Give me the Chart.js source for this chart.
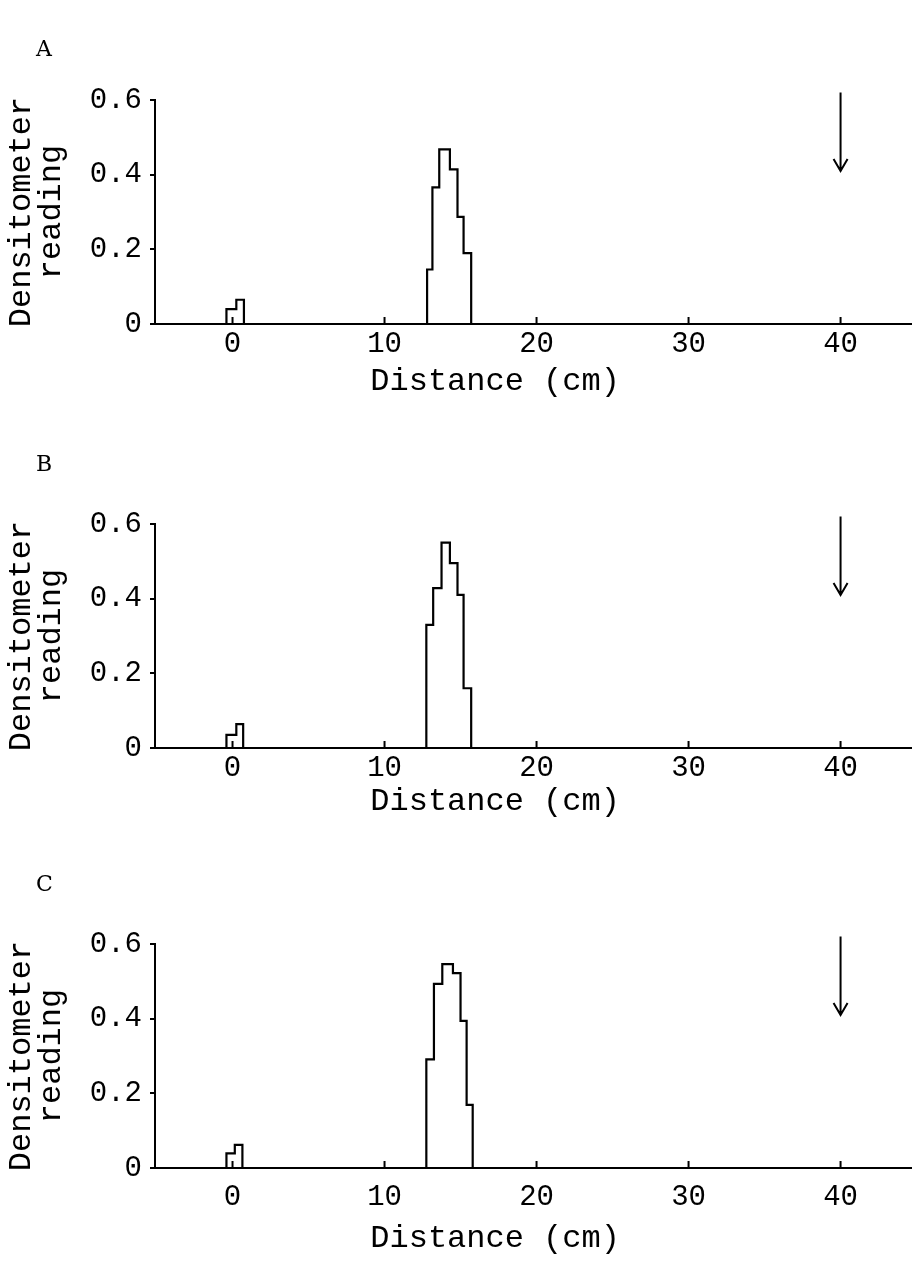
<!DOCTYPE html>
<html>
<head>
<meta charset="utf-8">
<script src="https://cdn.jsdelivr.net/npm/chart.js@4.4.1/dist/chart.umd.min.js"></script>
<style>
  body { margin: 0; background: #fff; width: 912px; height: 1262px; overflow: hidden; position: relative; }
  .panel { position: absolute; left: 0; width: 912px; height: 420px; }
</style>
</head>
<body>
<div class="panel" style="top:0"><canvas id="chartA"></canvas></div>
<div class="panel" style="top:424px"><canvas id="chartB"></canvas></div>
<div class="panel" style="top:844px"><canvas id="chartC"></canvas></div>
<script>
// shared axes
const xTicks = [0, 10, 20, 30, 40];
const yTicks = [0, 0.2, 0.4, 0.6];
const arrowAt = 40;
const arrowTop = 0.62;
const arrowTip = 0.41;

// Panel A
const smallEdgesA = [-0.4, 0.25, 0.75];
const smallValuesA = [0.04, 0.065];
const peakEdgesA = [12.8, 13.15, 13.6, 14.3, 14.8, 15.2, 15.7];
const peakValuesA = [0.146, 0.366, 0.468, 0.414, 0.287, 0.19];

// Panel B
const smallEdgesB = [-0.4, 0.25, 0.7];
const smallValuesB = [0.035, 0.064];
const peakEdgesB = [12.75, 13.2, 13.75, 14.3, 14.8, 15.2, 15.7];
const peakValuesB = [0.33, 0.428, 0.55, 0.495, 0.41, 0.16];

// Panel C
const smallEdgesC = [-0.4, 0.15, 0.65];
const smallValuesC = [0.039, 0.062];
const peakEdgesC = [12.75, 13.25, 13.8, 14.5, 15.0, 15.4, 15.8];
const peakValuesC = [0.291, 0.493, 0.546, 0.522, 0.394, 0.169];

const mono = "'Liberation Mono', 'DejaVu Sans Mono', monospace";

// outline of a histogram: up at the first edge, across each bin, down at the last edge
function outline(edges, values) {
    const pts = [{x: edges[0], y: 0}];
    values.forEach((v, i) => pts.push({x: edges[i], y: v}));
    pts.push({x: edges[edges.length - 1], y: 0});
    return pts;
}

const marks = {
    id: 'marks',
    afterDatasetsDraw(chart, args, opts) {
        const {ctx, scales: {x, y}} = chart;
        ctx.save();
        ctx.strokeStyle = '#000';
        ctx.lineWidth = 2;
        // tick marks point up into the plot
        x.ticks.forEach(t => {
            const px = x.getPixelForValue(t.value);
            ctx.beginPath();
            ctx.moveTo(px, y.bottom);
            ctx.lineTo(px, y.bottom - 7);
            ctx.stroke();
        });
        // arrow
        const ax = x.getPixelForValue(arrowAt);
        const top = y.getPixelForValue(arrowTop);
        const tip = y.getPixelForValue(arrowTip);
        ctx.beginPath();
        ctx.moveTo(ax, top);
        ctx.lineTo(ax, tip);
        ctx.moveTo(ax - 7, tip - 12);
        ctx.lineTo(ax, tip);
        ctx.lineTo(ax + 7, tip - 12);
        ctx.stroke();
        // panel letter
        ctx.fillStyle = '#000';
        ctx.font = "22px 'DejaVu Serif', serif";
        ctx.textBaseline = 'middle';
        ctx.fillText(opts.letter, 36, opts.letterY);
        ctx.restore();
    }
};

function makeChart(id, letter, letterY, smallEdges, smallValues, peakEdges, peakValues, tickPad, titlePad) {
    const line = {
        borderColor: '#000',
        borderWidth: 2.2,
        pointRadius: 0,
        stepped: true,
        fill: false,
        tension: 0
    };
    return new Chart(document.getElementById(id), {
        type: 'line',
        data: {
            datasets: [
                Object.assign({data: outline(smallEdges, smallValues)}, line),
                Object.assign({data: outline(peakEdges, peakValues)}, line)
            ]
        },
        options: {
            responsive: true,
            maintainAspectRatio: false,
            animation: false,
            layout: {padding: {top: 100, right: 0, bottom: 0, left: 0}},
            plugins: {
                legend: {display: false},
                tooltip: {enabled: false},
                marks: {letter: letter, letterY: letterY}
            },
            scales: {
                x: {
                    type: 'linear',
                    min: -5.1,
                    max: 44.7,
                    afterBuildTicks: s => { s.ticks = xTicks.map(v => ({value: v})); },
                    afterFit: s => { s.height = 96; },
                    grid: {display: false, drawTicks: false, tickLength: 0},
                    border: {display: true, color: '#000', width: 2},
                    ticks: {color: '#000', padding: tickPad, font: {family: mono, size: 29}, maxRotation: 0},
                    title: {
                        display: true,
                        text: 'Distance (cm)    ',
                        color: '#000',
                        font: {family: mono, size: 32, lineHeight: 1},
                        padding: {top: 0, bottom: titlePad}
                    }
                },
                y: {
                    min: 0,
                    max: 0.6,
                    afterBuildTicks: s => { s.ticks = yTicks.map(v => ({value: v})); },
                    afterFit: s => { s.width = 155; },
                    grid: {display: true, drawOnChartArea: false, tickLength: 5, color: '#000', lineWidth: 2},
                    border: {display: true, color: '#000', width: 2},
                    ticks: {color: '#000', padding: 8, font: {family: mono, size: 29}},
                    title: {
                        display: true,
                        text: ['Densitometer', 'reading'],
                        color: '#000',
                        font: {family: mono, size: 32, lineHeight: 0.95},
                        padding: {top: 6, bottom: 0}
                    }
                }
            }
        },
        plugins: [marks]
    });
}

makeChart('chartA', 'A', 50, smallEdgesA, smallValuesA, peakEdgesA, peakValuesA, 3, 22);
makeChart('chartB', 'B', 41, smallEdgesB, smallValuesB, peakEdgesB, peakValuesB, 3, 26);
makeChart('chartC', 'C', 41, smallEdgesC, smallValuesC, peakEdgesC, peakValuesC, 12, 9);
</script>
</body>
</html>
